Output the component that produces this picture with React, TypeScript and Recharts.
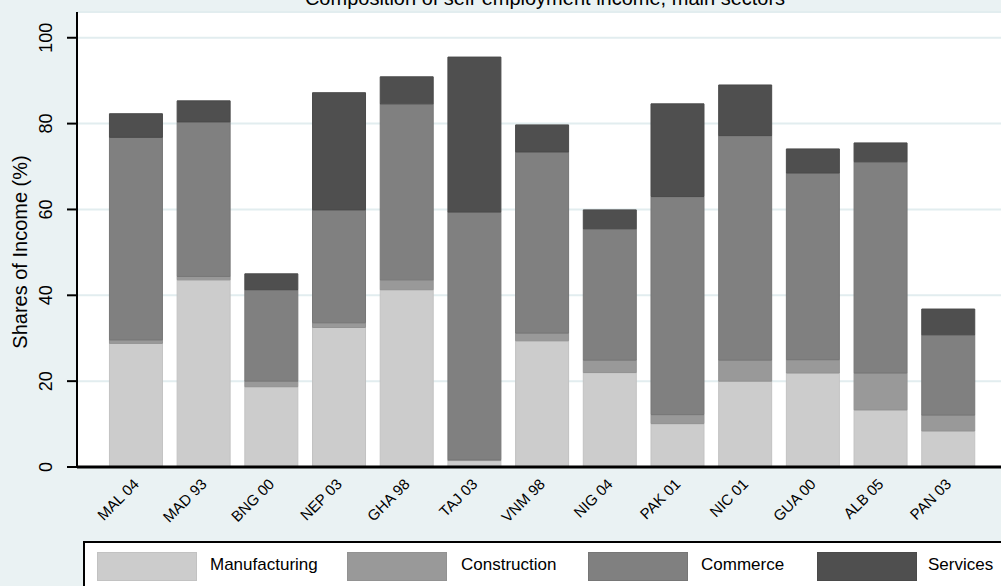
import * as React from "react";
import { Bar, BarChart, CartesianGrid, XAxis, YAxis } from "recharts";

const countries = ["MAL 04", "MAD 93", "BNG 00", "NEP 03", "GHA 98", "TAJ 03", "VNM 98", "NIG 04", "PAK 01", "NIC 01", "GUA 00", "ALB 05", "PAN 03"];
const manufacturing = [28.8, 43.6, 18.7, 32.5, 41.3, 1.5, 29.4, 22.0, 10.1, 20.0, 21.9, 13.3, 8.4];
const construction = [0.8, 0.8, 1.3, 1.1, 2.3, 0.2, 1.8, 2.9, 2.1, 4.9, 3.1, 8.6, 3.7];
const commerce = [47.2, 36.0, 21.3, 26.3, 41.0, 57.7, 42.2, 30.6, 50.8, 52.3, 43.5, 49.2, 18.7];
const services = [5.5, 4.9, 3.7, 27.3, 6.3, 36.1, 6.3, 4.4, 21.6, 11.8, 5.6, 4.4, 6.0];
const yTicks = [0, 20, 40, 60, 80, 100];

const series = [
  { key: "manufacturing", name: "Manufacturing", fill: "#cccccc", stroke: "#c2c2c2" },
  { key: "construction", name: "Construction", fill: "#999999", stroke: "#929292" },
  { key: "commerce", name: "Commerce", fill: "#808080", stroke: "#767676" },
  { key: "services", name: "Services", fill: "#4f4f4f", stroke: "#4a4a4a" },
];

const data = countries.map((c, i) => ({
  name: c,
  manufacturing: manufacturing[i],
  construction: construction[i],
  commerce: commerce[i],
  services: services[i],
}));

const font = "'Liberation Sans', Arial, sans-serif";

const XTick = (props: any) => {
  const { x, y, payload } = props;
  const tx = x + 4;
  const ty = y + 18;
  return (
    <text x={tx} y={ty} transform={`rotate(-45 ${tx} ${ty})`} textAnchor="end" fontSize={15} fontFamily={font} fill="#000">
      {payload.value}
    </text>
  );
};

const YTick = (props: any) => {
  const { x, y, payload } = props;
  const tx = x - 15;
  return (
    <text x={tx} y={y} transform={`rotate(-90 ${tx} ${y})`} textAnchor="middle" fontSize={18} fontFamily={font} fill="#000">
      {payload.value}
    </text>
  );
};

const legendPos = [
  { sx: 12, tx: 125 },
  { sx: 262, tx: 376 },
  { sx: 503, tx: 616 },
  { sx: 732, tx: 843 },
];

const App = () => {
  return (
    <div style={{ position: "absolute", left: 0, top: 0, width: 1001, height: 586, background: "#eaf2f3", overflow: "hidden" }}>
      <BarChart
        width={1001}
        height={586}
        data={data}
        margin={{ top: 12, right: 0, left: 0, bottom: 0 }}
        barCategoryGap="11%"
      >
        <CartesianGrid vertical={false} horizontal stroke="#e2edef" strokeWidth={2} fill="#ffffff" />
        <XAxis
          dataKey="name"
          height={119}
          interval={0}
          tickLine={false}
          tickSize={0}
          tickMargin={0}
          axisLine={{ stroke: "#000", strokeWidth: 3 }}
          padding={{ left: 25, right: 19 }}
          tick={<XTick />}
        />
        <YAxis
          width={77}
          domain={[0, 106]}
          ticks={yTicks}
          tickSize={10}
          tickMargin={0}
          tickLine={{ stroke: "#000", strokeWidth: 2 }}
          axisLine={{ stroke: "#000", strokeWidth: 2 }}
          tick={<YTick />}
        />
        {series.map((s) => (
          <Bar
            key={s.key}
            dataKey={s.key}
            name={s.name}
            stackId="a"
            fill={s.fill}
            stroke={s.stroke}
            strokeWidth={1}
            isAnimationActive={false}
          />
        ))}
      </BarChart>
      <svg width={1001} height={586} style={{ position: "absolute", left: 0, top: 0, pointerEvents: "none" }}>
        <text x={545} y={5} textAnchor="middle" fontSize={20} fontFamily={font} fill="#000">
          Composition of self-employment income, main sectors
        </text>
        <text x={27} y={252} transform="rotate(-90 27 252)" textAnchor="middle" fontSize={20} fontFamily={font} fill="#000">
          Shares of Income (%)
        </text>
      </svg>
      <div
        style={{
          position: "absolute",
          left: 83,
          top: 541,
          width: 930,
          height: 56,
          border: "2px solid #000",
          background: "#ffffff",
          boxSizing: "border-box",
        }}
      >
        {series.map((s, i) => (
          <React.Fragment key={s.key}>
            <div
              style={{
                position: "absolute",
                left: legendPos[i].sx,
                top: 9,
                width: 100,
                height: 29,
                background: s.fill,
                boxSizing: "border-box",
                border: `1px solid ${s.stroke}`,
              }}
            />
            <div
              style={{
                position: "absolute",
                left: legendPos[i].tx,
                top: 12,
                fontFamily: font,
                fontSize: 17,
                color: "#000",
                whiteSpace: "nowrap",
              }}
            >
              {s.name}
            </div>
          </React.Fragment>
        ))}
      </div>
    </div>
  );
};

export default App;
